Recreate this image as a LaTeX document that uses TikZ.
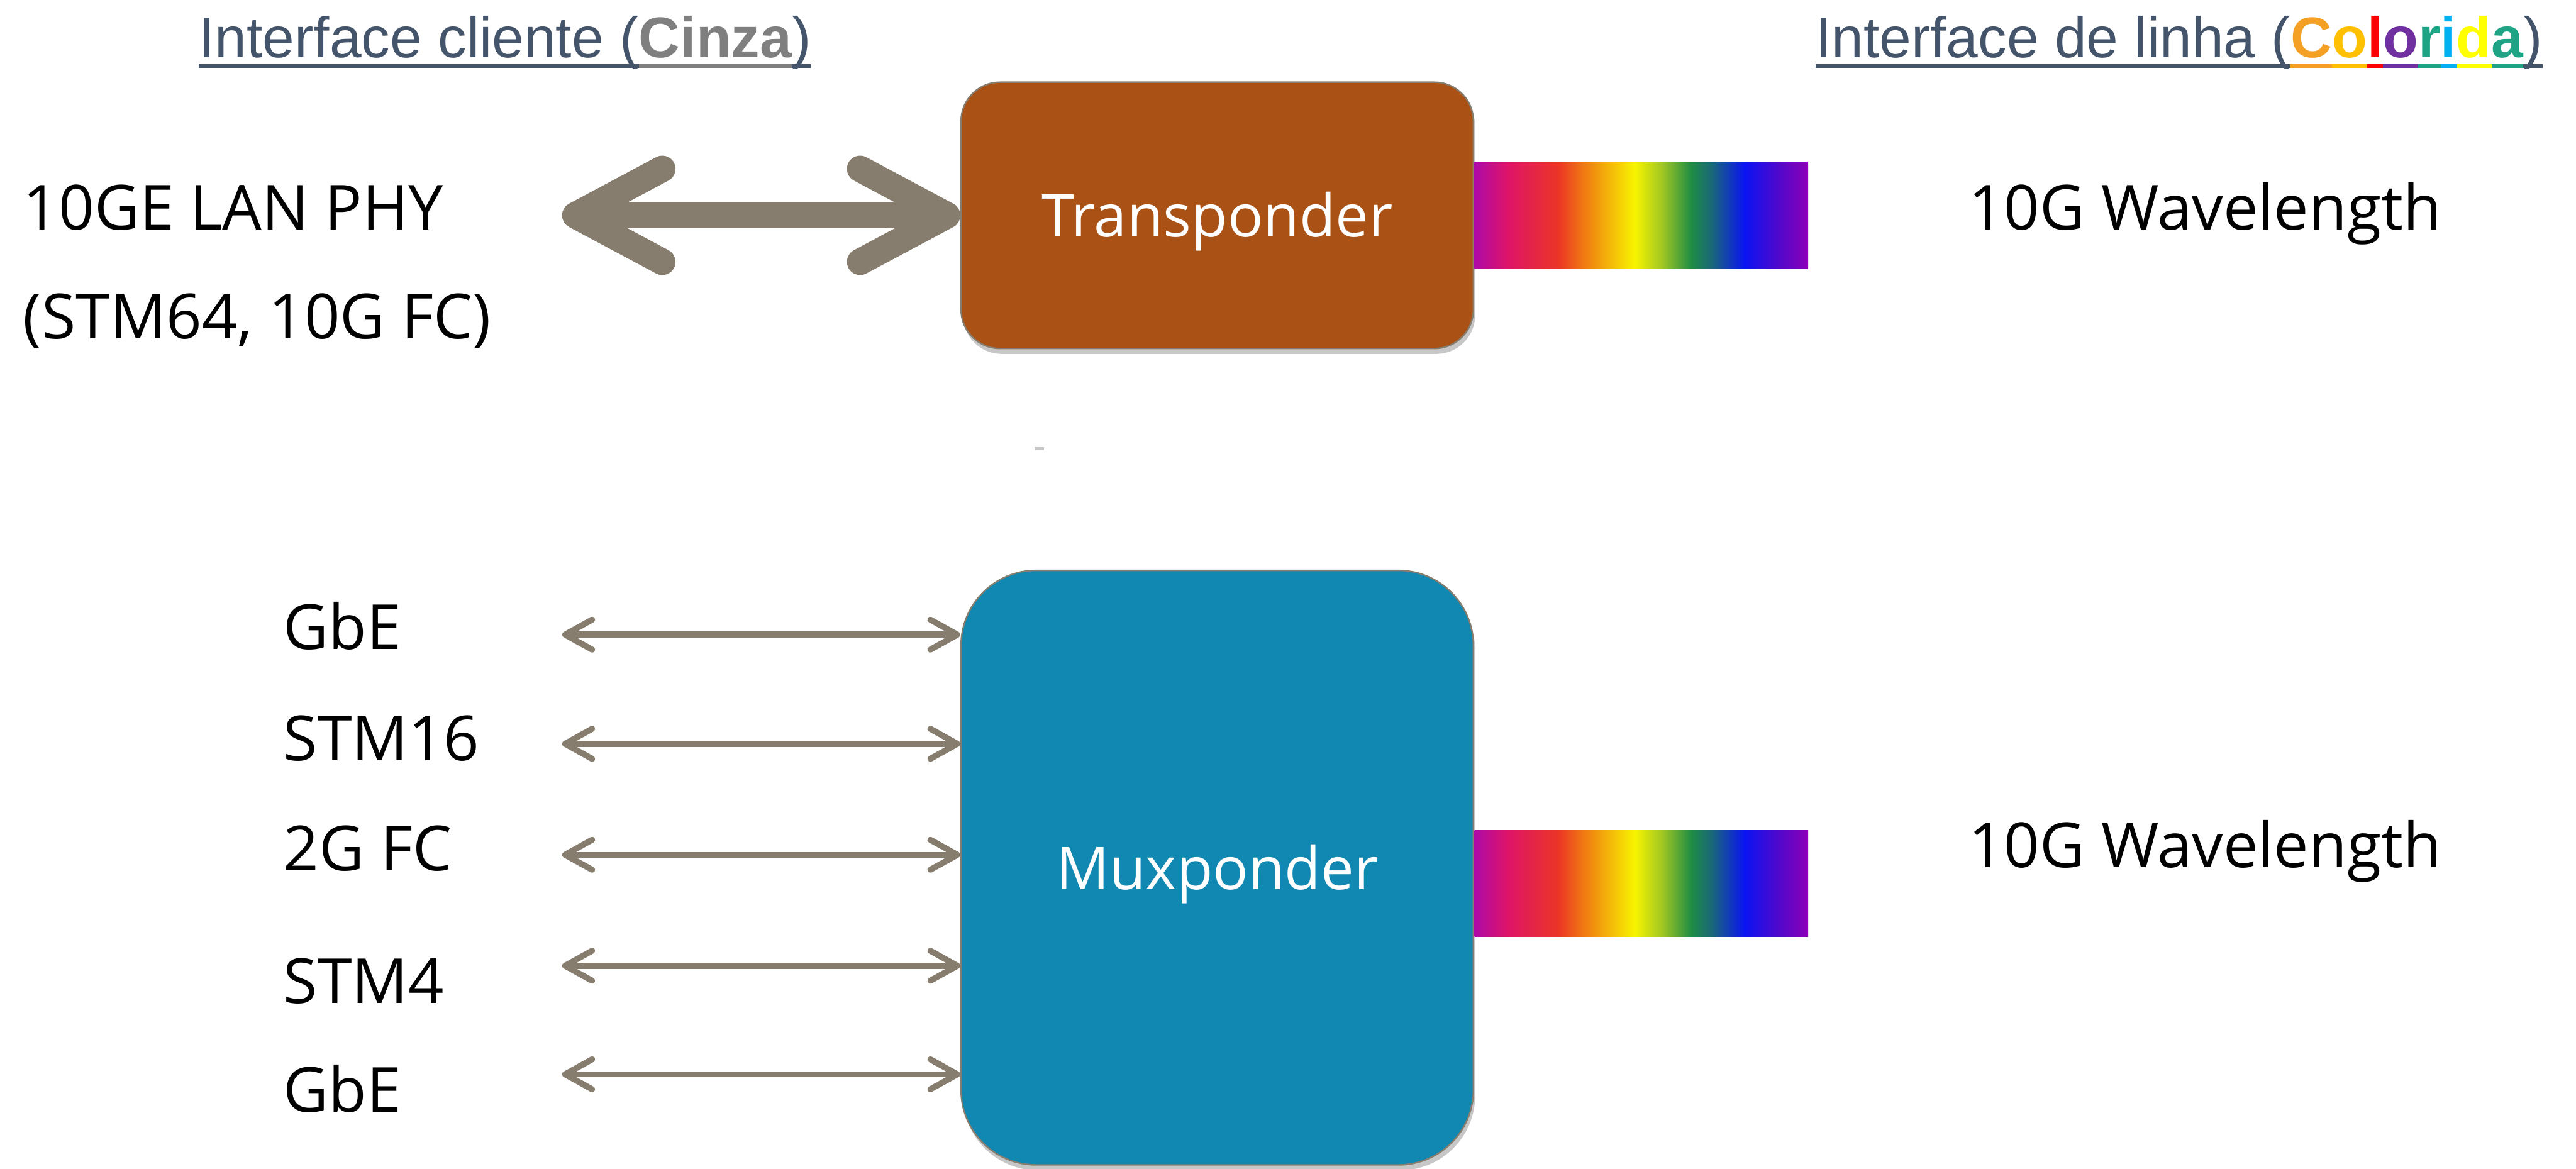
\documentclass[tikz,border=0pt]{standalone}
\usepackage{fontspec}
\setmainfont{Open Sans}
\newfontfamily\hdrfont{Liberation Sans}
\usetikzlibrary{arrows.meta,shadows}

% header colours
\definecolor{hdrslate}{HTML}{44546A}
\definecolor{hdrgray}{HTML}{7F7F7F}
\definecolor{cOra}{HTML}{F4A024}
\definecolor{cAmb}{HTML}{FFC000}
\definecolor{cRed}{HTML}{FF0000}
\definecolor{cPur}{HTML}{7030A0}
\definecolor{cTeal}{HTML}{1FA385}
\definecolor{cCyan}{HTML}{00B0F0}
\definecolor{cYel}{HTML}{FFFF00}
% blocks
\definecolor{arrowgray}{HTML}{877D6E}
\definecolor{tpbrown}{HTML}{AA5216}
\definecolor{muxblue}{HTML}{1088B2}
% spectrum stops
\definecolor{rbA}{HTML}{AE0AA8}
\definecolor{rbB}{HTML}{DE1468}
\definecolor{rbC}{HTML}{EB3526}
\definecolor{rbD}{HTML}{F07C12}
\definecolor{rbE}{HTML}{F8F400}
\definecolor{rbF}{HTML}{A4C822}
\definecolor{rbG}{HTML}{1E8C44}
\definecolor{rbH}{HTML}{1A6878}
\definecolor{rbI}{HTML}{0A14F2}
\definecolor{rbJ}{HTML}{5008CC}
\definecolor{rbK}{HTML}{8C00B8}

\pgfdeclarehorizontalshading{rainbow}{100bp}{color(0bp)=(rbA); color(25bp)=(rbA);
  color(30bp)=(rbB); color(37.5bp)=(rbC); color(41.5bp)=(rbD); color(49bp)=(rbE);
  color(53bp)=(rbF); color(57.5bp)=(rbG); color(60.5bp)=(rbH); color(65.5bp)=(rbI);
  color(70.5bp)=(rbJ); color(75bp)=(rbK); color(100bp)=(rbK)}

% underlined piece of header text, rule in the current colour
\newsavebox\ulbox
\newcommand\ulpart[2]{{\color{#1}\sbox\ulbox{#2}%
  \rlap{\rule[-0.17cm]{\wd\ulbox}{0.065cm}}\usebox\ulbox}}
% box caption, baseline set a fixed distance below the centre
\newcommand\boxtxt[1]{\raisebox{-0.36cm}[0pt][0pt]{#1}}

\tikzset{
  lbl/.style={font=\fontsize{29.5}{35}\selectfont, inner sep=0pt},
  hdr/.style={font=\hdrfont\fontsize{27.2}{32}\selectfont, inner sep=0pt, text=hdrslate},
  ponder/.style={text=white, font=\fontsize{28}{34}\selectfont, minimum width=8.54cm,
    inner sep=0pt, draw=arrowgray, line width=0.025cm,
    drop shadow={shadow xshift=0.03cm, shadow yshift=-0.09cm, fill=black, opacity=0.22}},
  rainbowbar/.style={shade, shading=rainbow, shading angle=0, minimum width=5.56cm,
    minimum height=1.78cm, inner sep=0pt},
  bigarrow/.style={draw=arrowgray, line width=0.44cm,
    >={Straight Barb[length=1.45cm, width=1.55cm, round]}, <->},
  thinarrow/.style={draw=arrowgray, line width=0.1cm,
    >={Straight Barb[length=0.45cm, width=0.5cm, round]}, <->},
}

\begin{document}
\begin{tikzpicture}

\useasboundingbox (0,0) rectangle (42.94,-19.48);

\def\lx{4.72}    % left edge of the client labels
\def\ax{9.37}    % free end of the client arrows

% headers
\node[hdr, anchor=base west] (hdrcli) at (3.31,-0.96)
  {\ulpart{hdrslate}{Interface cliente (}\ulpart{hdrgray}{\bfseries Cinza}\ulpart{hdrslate}{)}};
\node[hdr, anchor=base west] (hdrlin) at (30.26,-0.96)
  {\ulpart{hdrslate}{Interface de linha (}\ulpart{cOra}{\bfseries C}\ulpart{cAmb}{\bfseries o}%
   \ulpart{cRed}{\bfseries l}\ulpart{cPur}{\bfseries o}\ulpart{cTeal}{\bfseries r}%
   \ulpart{cCyan}{\bfseries i}\ulpart{cYel}{\bfseries d}\ulpart{cTeal}{\bfseries a}\ulpart{hdrslate}{)}};

% transponder
\node[ponder, fill=tpbrown, minimum height=4.44cm, rounded corners=0.65cm] (tp)
  at (20.29,-3.59) {\boxtxt{Transponder}};
\node[rainbowbar, anchor=west] (tpbar) at (tp.east) {};
\node[lbl, anchor=base west] (tpclient) at (0.38,-3.83) {10GE LAN PHY};
\node[lbl, anchor=base west] (tpclientb) at (0.38,-5.64) {(STM64, 10G FC)};
\node[lbl, anchor=base west] (tpline) at (32.81,-3.83) {10G Wavelength};
\coordinate (tparr) at (\ax,-3.59);
\draw[bigarrow] (tparr) -- (tp.west);

% stray mark
\fill[black!22] (17.25,-7.455) rectangle (17.40,-7.505);

% muxponder
\node[ponder, fill=muxblue, minimum height=9.91cm, rounded corners=1.25cm] (mux)
  at (20.29,-14.465) {\boxtxt{Muxponder}};
\node[rainbowbar, anchor=west] (muxbar) at (mux.east |- 0,-14.73) {};
\node[lbl, anchor=base west] (muxline) at (32.81,-14.46) {10G Wavelength};

% client rows: i / label / arrow y / label baseline
\foreach \i/\lbltxt/\ya/\yb in {
  1/GbE/10.58/10.82,
  2/STM16/12.40/12.68,
  3/2G FC/14.25/14.51,
  4/STM4/16.10/16.73,
  5/GbE/17.91/18.54}
{
  \node[lbl, anchor=base west] (cli\i) at (\lx,-\yb) {\lbltxt};
  \coordinate (src\i) at (\ax,-\ya);
  \draw[thinarrow] (src\i) -- (src\i -| mux.west);
}

\end{tikzpicture}
\end{document}
